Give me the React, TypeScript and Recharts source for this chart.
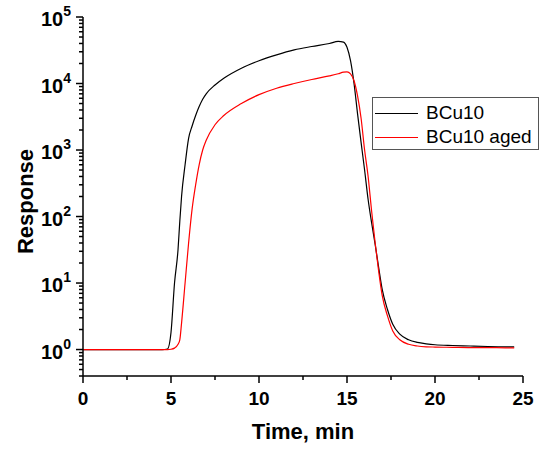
/**
 * Gas-sensor response curves for BCu10 (fresh vs aged), log Y axis.
 */
import React from 'react';
import { LineChart, Line, XAxis, YAxis, Legend, Label } from 'recharts';

const FONT = 'Arial, "Liberation Sans", sans-serif';

// time in minutes
const time = [
  0, 1, 2, 3, 4, 4.5, 4.8, 5.0, 5.2, 5.4, 5.5, 5.6, 5.8, 6.0, 6.2, 6.4, 6.6, 6.8, 7.0, 7.5, 8, 9, 10, 11,
  12, 13, 14, 14.5, 14.8, 15.0, 15.2, 15.4, 15.6, 15.8, 16.0, 16.2, 16.4, 16.6, 16.8, 17.0, 17.3, 17.6,
  18.0, 18.5, 19, 19.5, 20, 21, 22, 23, 24, 24.5,
];

const bcu10 = [
  1, 1, 1, 1, 1, 1, 1.02, 1.8, 10, 32, 85, 200, 600, 1500, 2300, 3300, 4500, 5800, 7000, 9500, 12000,
  17000, 22000, 27000, 32000, 36000, 40000, 43000, 42000, 35000, 22000, 10000, 3500, 1300, 500, 180,
  80, 38, 17, 8, 4, 2.4, 1.7, 1.4, 1.28, 1.22, 1.18, 1.15, 1.13, 1.11, 1.1, 1.1,
];

const bcu10Aged = [
  1, 1, 1, 1, 1, 1, 1, 1.01, 1.05, 1.2, 1.4, 2.5, 10, 40, 130, 300, 600, 1000, 1400, 2400, 3300, 5000,
  6800, 8500, 10000, 11500, 13000, 14000, 14800, 15000, 14000, 11000, 6500, 3000, 1000, 400, 120, 40,
  15, 6.5, 3.2, 1.9, 1.4, 1.2, 1.13, 1.1, 1.09, 1.08, 1.07, 1.07, 1.06, 1.06,
];

const xMajorTicks = [0, 5, 10, 15, 20, 25];
const xMinorTicks = [2.5, 7.5, 12.5, 17.5, 22.5];
const yMajorTicks = [1, 10, 100, 1000, 10000, 100000];
const yMinorSteps = [2, 3, 4, 5, 6, 7, 8, 9];
const yLowMinor = [0.4, 0.5, 0.6, 0.7, 0.8, 0.9];

const data = time.map((t, i) => ({ t, a: bcu10[i], b: bcu10Aged[i] }));

const yTicks = [...yLowMinor];
yMajorTicks.forEach((m, i) => {
  yTicks.push(m);
  if (i < yMajorTicks.length - 1) yMinorSteps.forEach((s) => yTicks.push(m * s));
});
const xTicks = [...xMajorTicks, ...xMinorTicks].sort((p, q) => p - q);

function YTick({ x, y, payload }: any) {
  const v = payload.value;
  const major = yMajorTicks.includes(v);
  const len = major ? 7 : 4;
  return (
    <g>
      <line x1={x - len} x2={x} y1={y} y2={y} stroke="#000" strokeWidth={1.5} />
      {major && (
        <text x={x - 12} y={y + 9} textAnchor="end" fontFamily={FONT} fontWeight="bold" fontSize={20} fill="#000">
          10
          <tspan dy={-10} fontSize={14}>
            {Math.round(Math.log10(v))}
          </tspan>
        </text>
      )}
    </g>
  );
}

function XTick({ x, y, payload }: any) {
  const v = payload.value;
  const major = xMajorTicks.includes(v);
  const len = major ? 7 : 4;
  return (
    <g>
      <line x1={x} x2={x} y1={y} y2={y + len} stroke="#000" strokeWidth={1.5} />
      {major && (
        <text x={x} y={y + 29} textAnchor="middle" fontFamily={FONT} fontWeight="bold" fontSize={19} fill="#000">
          {v}
        </text>
      )}
    </g>
  );
}

function LegendBox({ payload }: any) {
  return (
    <div
      style={{
        border: '1px solid #555',
        background: '#fff',
        width: 167,
        height: 53,
        boxSizing: 'border-box',
        padding: '3px 0 0 2px',
        fontFamily: FONT,
        fontSize: 19,
        color: '#000',
      }}
    >
      {(payload || []).map((p: any) => (
        <div key={p.value} style={{ display: 'flex', alignItems: 'center', height: 24 }}>
          <div style={{ width: 43, height: 0, borderTop: `1px solid ${p.color}`, marginRight: 8 }} />
          <span style={{ lineHeight: '24px' }}>{p.value}</span>
        </div>
      ))}
    </div>
  );
}

export default function App() {
  return (
    <div style={{ position: 'absolute', left: 0, top: 0, width: 550, height: 451, background: '#fff' }}>
      <LineChart width={550} height={451} data={data} margin={{ top: 17, right: 27, bottom: 0, left: 0 }}>
        <XAxis
          dataKey="t"
          type="number"
          domain={[0, 25]}
          ticks={xTicks}
          interval={0}
          tick={<XTick />}
          tickLine={false}
          tickSize={0}
          tickMargin={0}
          height={75}
          axisLine={{ stroke: '#000', strokeWidth: 1.5 }}
        >
          <Label
            content={({ viewBox }: any) => (
              <text
                x={viewBox.x + viewBox.width / 2}
                y={viewBox.y + 63}
                textAnchor="middle"
                fontFamily={FONT}
                fontWeight="bold"
                fontSize={22}
                fill="#000"
              >
                Time, min
              </text>
            )}
          />
        </XAxis>
        <YAxis
          type="number"
          scale="log"
          domain={[0.4, 100000]}
          allowDataOverflow
          ticks={yTicks}
          interval={0}
          tick={<YTick />}
          tickLine={false}
          tickSize={0}
          tickMargin={0}
          width={83}
          axisLine={{ stroke: '#000', strokeWidth: 1.5 }}
        >
          <Label
            content={({ viewBox }: any) => {
              const cy = viewBox.y + viewBox.height / 2 + 5;
              return (
                <text
                  x={33}
                  y={cy}
                  transform={`rotate(-90, 33, ${cy})`}
                  textAnchor="middle"
                  fontFamily={FONT}
                  fontWeight="bold"
                  fontSize={22}
                  fill="#000"
                >
                  Response
                </text>
              );
            }}
          />
        </YAxis>
        <Legend
          layout="horizontal"
          verticalAlign="middle"
          align="center"
          content={<LegendBox />}
          wrapperStyle={{ position: 'absolute', left: 372, top: 97, width: 167, bottom: 'auto' }}
        />
        <Line
          dataKey="a"
          name="BCu10"
          type="monotone"
          stroke="#000"
          strokeWidth={1.2}
          dot={false}
          isAnimationActive={false}
        />
        <Line
          dataKey="b"
          name="BCu10 aged"
          type="monotone"
          stroke="#ff0000"
          strokeWidth={1.2}
          dot={false}
          isAnimationActive={false}
        />
      </LineChart>
    </div>
  );
}
